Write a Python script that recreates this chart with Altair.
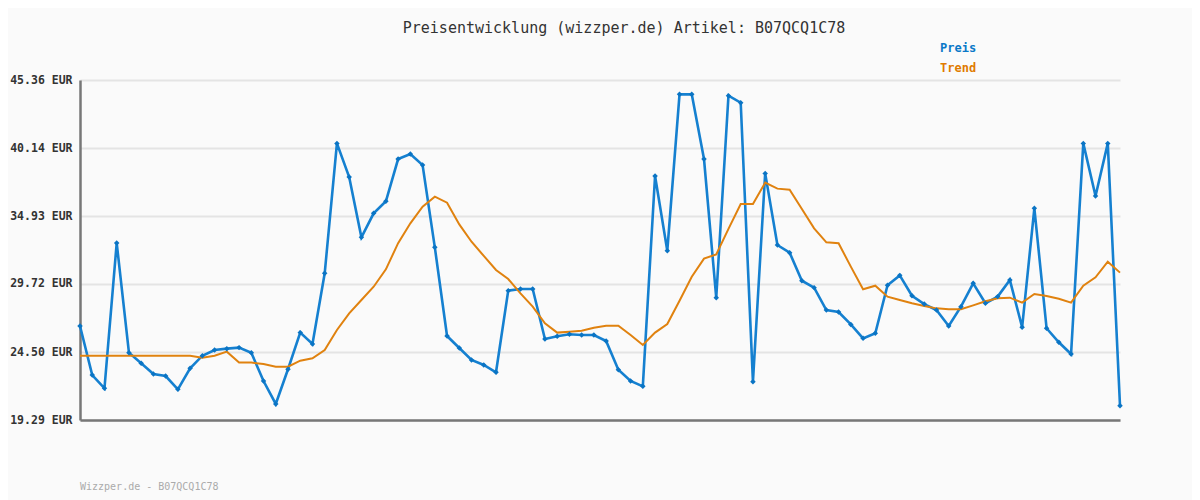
import altair as alt
import pandas as pd

title_text = "Preisentwicklung (wizzper.de) Artikel: B07QCQ1C78"
footer_text = "Wizzper.de - B07QCQ1C78"
series_names = ["Preis", "Trend"]
series_colors = ["#1580d0", "#e0820f"]
y_ticks = [19.29, 24.50, 29.72, 34.93, 40.14, 45.36]

preis = [26.50, 22.74, 21.72, 32.86, 24.45, 23.64, 22.82, 22.66, 21.64, 23.25,
         24.22, 24.66, 24.76, 24.84, 24.45, 22.28, 20.52, 23.18, 25.99, 25.12,
         30.54, 40.50, 37.92, 33.30, 35.14, 36.06, 39.30, 39.69, 38.84, 32.53,
         25.73, 24.81, 23.89, 23.51, 22.95, 29.21, 29.33, 29.33, 25.50, 25.71,
         25.86, 25.81, 25.81, 25.35, 23.15, 22.28, 21.87, 38.00, 32.27, 44.26,
         44.26, 39.30, 28.67, 44.16, 43.62, 22.23, 38.20, 32.71, 32.12, 29.97,
         29.44, 27.72, 27.57, 26.62, 25.55, 25.94, 29.62, 30.38, 28.82, 28.18,
         27.72, 26.50, 27.98, 29.77, 28.24, 28.75, 30.02, 26.40, 35.52, 26.32,
         25.25, 24.35, 40.50, 36.47, 40.50, 20.39]

trend = [24.22, 24.22, 24.22, 24.22, 24.22, 24.22, 24.22, 24.22, 24.22, 24.22,
         24.07, 24.22, 24.53, 23.69, 23.69, 23.58, 23.38, 23.38, 23.84, 24.02,
         24.66, 26.19, 27.47, 28.49, 29.51, 30.84, 32.85, 34.37, 35.65, 36.41,
         35.95, 34.29, 32.96, 31.87, 30.79, 30.10, 29.00, 27.98, 26.70, 25.99,
         26.06, 26.14, 26.37, 26.52, 26.52, 25.81, 25.04, 25.99, 26.65, 28.44,
         30.28, 31.66, 31.99, 33.94, 35.85, 35.85, 37.49, 37.03, 36.95, 35.47,
         33.99, 32.91, 32.84, 31.05, 29.31, 29.59, 28.75, 28.49, 28.24, 28.03,
         27.85, 27.78, 27.78, 28.08, 28.39, 28.62, 28.67, 28.29, 28.95, 28.80,
         28.59, 28.29, 29.59, 30.23, 31.43, 30.59]

n = len(preis)
df = pd.DataFrame({
    "i": list(range(n)) * 2,
    "v": preis + trend,
    "s": ["Preis"] * n + ["Trend"] * n,
})

x_enc = alt.X("i:Q", scale=alt.Scale(domain=[0, n - 1], nice=False, zero=False),
              axis=alt.Axis(labels=False, ticks=False, grid=False, title=None,
                            domainColor="#777777", domainWidth=2.5))
y_enc = alt.Y("v:Q", scale=alt.Scale(domain=[y_ticks[0], y_ticks[-1]], nice=False, zero=False),
              axis=alt.Axis(values=y_ticks, format=".2f", labelExpr="datum.label + ' EUR'",
                            title=None, ticks=False, labelPadding=8,
                            labelFont="DejaVu Sans Mono", labelFontSize=11.5,
                            labelFontWeight="bold", labelColor="#333333",
                            gridColor="#e4e4e4", gridWidth=2,
                            domainColor="#777777", domainWidth=2.5))
color_enc = alt.Color("s:N", scale=alt.Scale(domain=series_names, range=series_colors),
                      legend=alt.Legend(title=None, orient="none", legendX=848, legendY=-38,
                                        symbolOpacity=0, symbolSize=0, symbolStrokeWidth=0,
                                        labelOffset=0, rowPadding=8,
                                        labelFont="DejaVu Sans Mono", labelFontSize=12,
                                        labelFontWeight="bold",
                                        labelColor=alt.ExprRef("datum.label == 'Preis' ? '#0a78c8' : '#e07b00'")))

base = alt.Chart(df)
lines = base.mark_line().encode(
    x=x_enc, y=y_enc, color=color_enc,
    strokeWidth=alt.condition("datum.s == 'Preis'", alt.value(2.6), alt.value(2)))
points = base.transform_filter("datum.s == 'Preis'").mark_point(
    shape="diamond", filled=True, size=30, opacity=1, color="#0a74c4").encode(x="i:Q", y="v:Q")

title_df = pd.DataFrame({"t": [title_text]})
title_mark = alt.Chart(title_df).mark_text(
    align="center", baseline="middle", font="DejaVu Sans Mono", fontSize=15, color="#333333"
).encode(x=alt.value(544), y=alt.value(-52), text="t:N")

footer = alt.Chart(pd.DataFrame({"t": [footer_text]})).mark_text(
    align="left", baseline="middle", font="DejaVu Sans Mono", fontSize=10, color="#aaaaaa"
).encode(x=alt.value(0), y=alt.value(407), text="t:N")

chart = alt.layer(lines, points, title_mark, footer).properties(
    width=1040, height=340,
    autosize=alt.AutoSizeParams(type="none"),
    padding={"left": 72, "top": 72, "right": 72, "bottom": 80},
    background="#fafafa",
).configure_view(stroke=None)

chart.save("out.html", embed_options={"renderer": "svg", "actions": False})
